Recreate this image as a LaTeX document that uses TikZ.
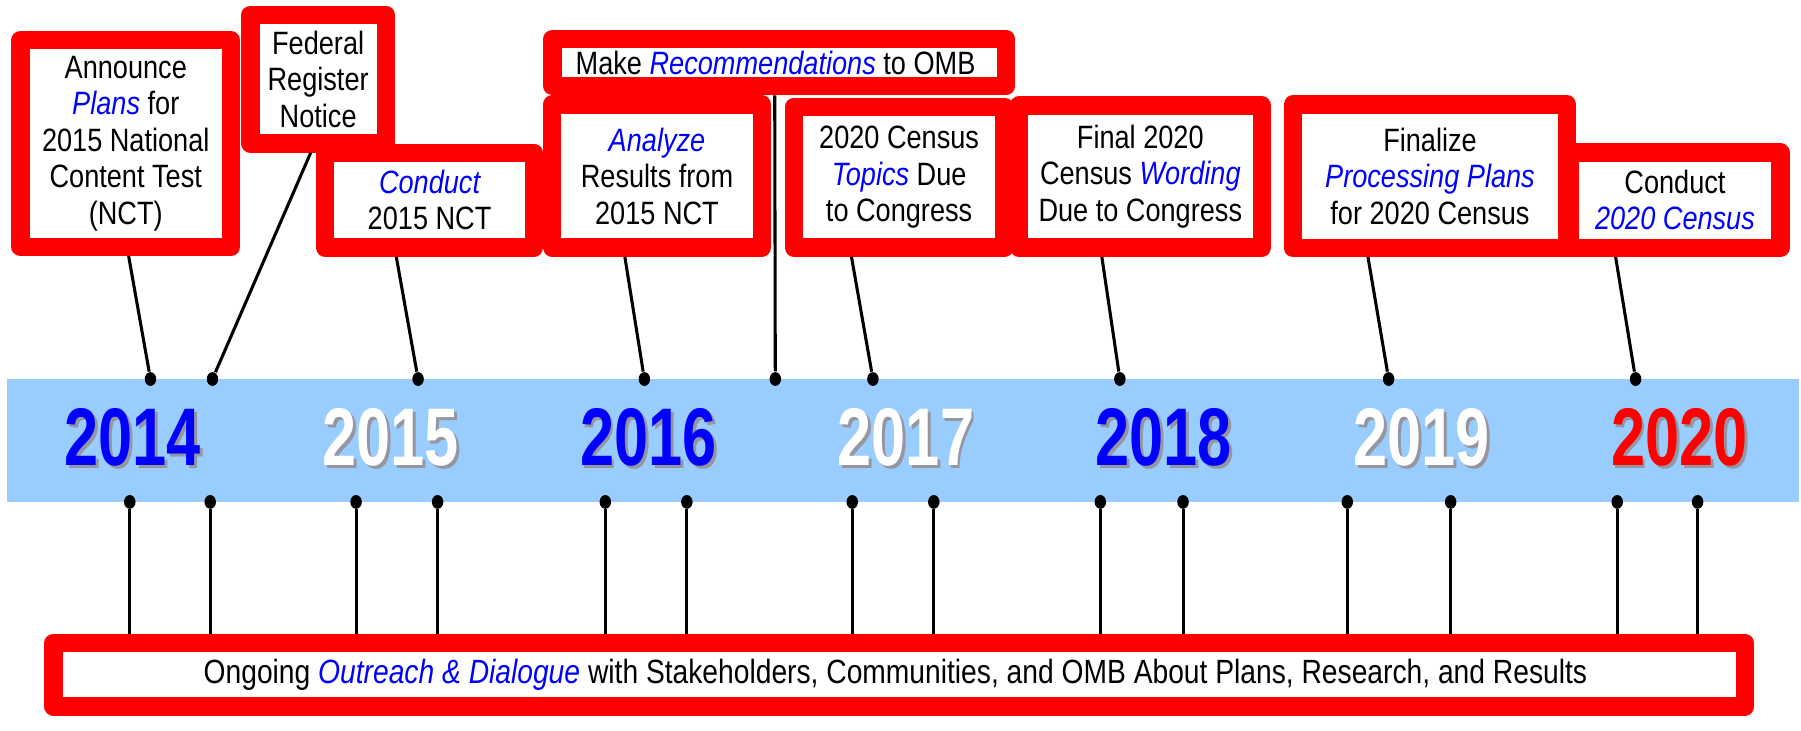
\documentclass[tikz,border=0pt]{standalone}
\usepackage{fontspec}
\setmainfont[FakeStretch=0.84]{Liberation Sans}
\newfontfamily\yearfont[FakeStretch=0.75]{Liberation Sans}
\usepackage{tikz}
\usetikzlibrary{shapes}
\definecolor{frame}{RGB}{255, 0, 0}
\definecolor{band}{RGB}{153, 204, 255}
\definecolor{key}{RGB}{0, 0, 255}
\definecolor{shade}{RGB}{150, 150, 160}
\newcommand{\kw}[1]{\textcolor{key}{\itshape #1}}

\begin{document}
\begin{tikzpicture}[
   x=0.0125cm, y=-0.0125cm,
   evbox/.style 2 args={draw=frame, fill=white, line width=0.2cm, line join=round,
                        inner sep=0, align=center, minimum width=#1*0.0125cm,
                        minimum height=#2*0.0125cm,
                        font=\fontsize{10}{11.3}\selectfont},
   blob/.style={ellipse, fill=black, inner sep=0, minimum width=0.125cm,
                minimum height=0.15cm},
   stem/.style={line width=0.95pt, color=black},
   yr/.style={inner sep=0, font=\yearfont\bfseries\fontsize{25.3}{30}\selectfont}
  ]

  \useasboundingbox (0, 0) rectangle (1568, 636.4);

  % Year Spacing
  \pgfmathsetmacro{\yd}{224.4}

  % Band
  \fill[band] (6, 330) rectangle (1566, 437);

  % Event Boxes
  \node (N1) at (109.5, 125) [evbox={183}{180}]
    { Announce \\ \kw{Plans} for \\ 2015 National \\ Content Test \\ (NCT) };
  \node (N2) at (277, 69) [evbox={118}{112}] { Federal \\ Register \\ Notice };
  \node (N3) at (374, 174.2) [evbox={182}{82.5}] { \kw{Conduct} \\ 2015 NCT };
  \node (N4) at (678.5, 54.5) [evbox={395}{41}] { Make \kw{Recommendations} to OMB };
  \node (N5) at (572, 153.3) [evbox={182.5}{124.5}]
    { \kw{Analyze} \\ Results from \\ 2015 NCT };
  \node (N6) at (782.8, 154.2) [evbox={183.5}{122.5}]
    { 2020 Census \\ \kw{Topics} Due \\ to Congress };
  \node (N7) at (992.8, 153.8) [evbox={211.5}{123.7}]
    { Final 2020 \\ Census \kw{Wording} \\ Due to Congress };
  \node (N8) at (1245, 153.4) [evbox={239}{124.7}]
    { Finalize \\ \kw{Processing Plans} \\ for 2020 Census };
  \node (N9) at (1458.3, 174.2) [evbox={183.4}{83}] { Conduct \\ \kw{2020 Census} };

  \node (NB) at (783, 587.5) [evbox={1473}{55}, font=\fontsize{10.4}{12}\selectfont]
    { Ongoing \kw{Outreach \& Dialogue} with Stakeholders, Communities, and OMB About Plans, Research, and Results };

  % Dots
  \foreach \n/\x in {1/131, 2/185, 3/364, 4/675, 5/561, 6/760, 7/975, 8/1209, 9/1424} {
    \node (T\n) at (\x, 330) [blob] {};
  }
  \foreach \n/\x in {1/113, 2/183, 3/310, 4/381, 5/527, 6/598, 7/742, 8/813,
                     9/958, 10/1030, 11/1173, 12/1263, 13/1408, 14/1478} {
    \node (B\n) at (\x, 437) [blob] {};
    \draw[stem] (B\n) -- (B\n |- NB.north);
  }

  % Connectors
  \foreach \B/\o/\E in {N1/2.5/T1, N2/-6.5/T2, N3/-29/T3, N4/-4/T4, N5/-28/T5,
                        N6/-41.5/T6, N7/-33.5/T7, N8/-54/T8, N9/-51.7/T9} {
    \draw[stem] ([xshift=\o*0.0125cm]\B.south) -- (\E);
  }

  % Years
  \foreach \i/\yy/\c in {0/2014/key, 1/2015/white, 2/2016/key, 3/2017/white,
                         4/2018/key, 5/2019/white, 6/2020/frame} {
    \node (S\yy) at ({115.6 + \yd * \i + 2.5}, 383) [yr, text=shade] {\yy};
    \node (Y\yy) at ({115.6 + \yd * \i}, 381) [yr, text=\c] {\yy};
  }

\end{tikzpicture}
\end{document}
